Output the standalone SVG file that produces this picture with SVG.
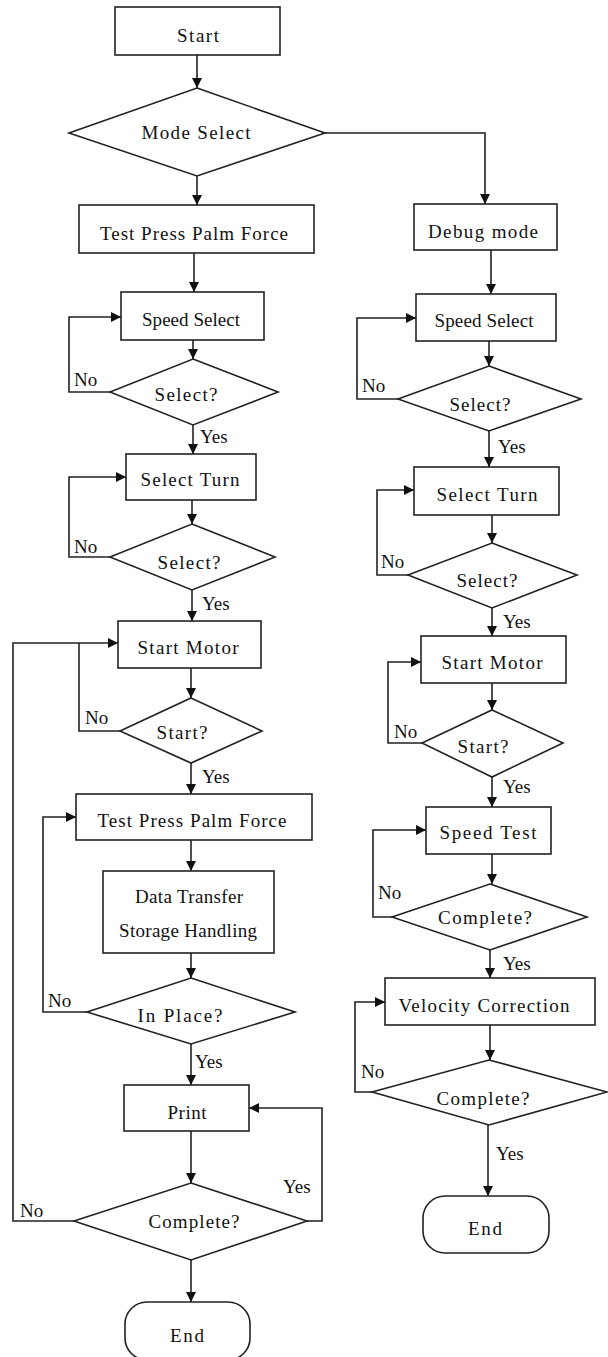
<svg xmlns="http://www.w3.org/2000/svg" width="608" height="1357" viewBox="0 0 608 1357">
<style>
.n{fill:#fff;stroke:#222;stroke-width:1.6}
.c{fill:none;stroke:#222;stroke-width:1.6}
.a{marker-end:url(#ah)}
text{font-family:"Liberation Serif","Times New Roman",serif;font-size:19px;fill:#111}
.m{text-anchor:middle}
</style>
<defs>
<marker id="ah" markerUnits="userSpaceOnUse" markerWidth="10" markerHeight="10" refX="10" refY="5" orient="auto">
<path d="M0,0 L10,5 L0,10 z" fill="#111"/>
</marker>
</defs>
<rect width="608" height="1357" fill="#fff"/>
<g id="connectors">
<path class="c a" d="M197,55 V88"/>
<path class="c a" d="M197,176 V205"/>
<path class="c a" d="M325,133 H485 V204"/>
<path class="c a" d="M194,253 V292"/>
<path class="c a" d="M193,340 V359"/>
<path class="c a" d="M110,392 H69 V317 H121"/>
<path class="c a" d="M193,425 V454"/>
<path class="c a" d="M192,500 V524"/>
<path class="c a" d="M110,557 H69 V477 H126"/>
<path class="c a" d="M192,590 V621"/>
<path class="c a" d="M191,668 V698"/>
<path class="c" d="M120,731 H79 V643"/>
<path class="c a" d="M74,1221 H13 V643 H118"/>
<path class="c a" d="M191,763 V794"/>
<path class="c a" d="M191,840 V871"/>
<path class="c a" d="M191,953 V978"/>
<path class="c a" d="M87,1012 H43 V817 H76"/>
<path class="c a" d="M191,1044 V1085"/>
<path class="c a" d="M191,1131 V1183"/>
<path class="c a" d="M307,1221 H322 V1108 H249"/>
<path class="c a" d="M191,1260 V1302"/>
<path class="c a" d="M491,250 V294"/>
<path class="c a" d="M489,341 V366"/>
<path class="c a" d="M398,399 H357 V318 H416"/>
<path class="c a" d="M489,431 V467"/>
<path class="c a" d="M492,515 V543"/>
<path class="c a" d="M408,575 H377 V490 H414"/>
<path class="c a" d="M492,608 V636"/>
<path class="c a" d="M492,683 V710"/>
<path class="c a" d="M422,743 H388 V662 H421"/>
<path class="c a" d="M492,777 V807"/>
<path class="c a" d="M492,854 V884"/>
<path class="c a" d="M392,917 H373 V830 H426"/>
<path class="c a" d="M490,950 V978"/>
<path class="c a" d="M490,1025 V1060"/>
<path class="c a" d="M372,1092 H355 V1002 H385"/>
<path class="c a" d="M488,1125 V1196"/>
<text x="200" y="443">Yes</text>
<text x="74" y="386">No</text>
<text x="74" y="553">No</text>
<text x="202" y="610">Yes</text>
<text x="85" y="724">No</text>
<text x="202" y="783">Yes</text>
<text x="48" y="1007">No</text>
<text x="195" y="1068">Yes</text>
<text x="283" y="1193">Yes</text>
<text x="20" y="1217">No</text>
<text x="362" y="392">No</text>
<text x="498" y="453">Yes</text>
<text x="381" y="568">No</text>
<text x="503" y="628">Yes</text>
<text x="394" y="738">No</text>
<text x="503" y="793">Yes</text>
<text x="378" y="899">No</text>
<text x="503" y="970">Yes</text>
<text x="361" y="1078">No</text>
<text x="496" y="1160">Yes</text>
</g>
<g id="start"><rect class="n" x="115" y="7" width="165" height="48"/><text class="m" x="198" y="42" textLength="42" lengthAdjust="spacing">Start</text></g>
<g id="mode-select"><polygon class="n" points="197,88 325,133 197,176 69,133"/><text class="m" x="196" y="139" textLength="109" lengthAdjust="spacing">Mode Select</text></g>
<g id="test-press-1"><rect class="n" x="79" y="205" width="235" height="48"/><text class="m" x="194" y="240" textLength="188" lengthAdjust="spacing">Test Press Palm Force</text></g>
<g id="speed-select-l"><rect class="n" x="121" y="292" width="143" height="48"/><text class="m" x="191" y="326" textLength="98" lengthAdjust="spacing">Speed Select</text></g>
<g id="select-l1"><polygon class="n" points="193,359 278,392 193,425 110,392"/><text class="m" x="186" y="401" textLength="63" lengthAdjust="spacing">Select?</text></g>
<g id="select-turn-l"><rect class="n" x="126" y="454" width="130" height="46"/><text class="m" x="190" y="486" textLength="99" lengthAdjust="spacing">Select Turn</text></g>
<g id="select-l2"><polygon class="n" points="192,524 275,557 192,590 110,557"/><text class="m" x="189" y="569" textLength="63" lengthAdjust="spacing">Select?</text></g>
<g id="start-motor-l"><rect class="n" x="118" y="621" width="143" height="47"/><text class="m" x="188" y="654" textLength="101" lengthAdjust="spacing">Start Motor</text></g>
<g id="start-q-l"><polygon class="n" points="191,698 262,731 191,763 120,731"/><text class="m" x="182" y="739" textLength="51" lengthAdjust="spacing">Start?</text></g>
<g id="test-press-2"><rect class="n" x="76" y="794" width="236" height="46"/><text class="m" x="192" y="827" textLength="189" lengthAdjust="spacing">Test Press Palm Force</text></g>
<g id="data-transfer"><rect class="n" x="103" y="871" width="171" height="82"/><text class="m" x="189" y="903" textLength="108" lengthAdjust="spacing">Data Transfer</text><text class="m" x="188" y="937" textLength="138" lengthAdjust="spacing">Storage Handling</text></g>
<g id="in-place"><polygon class="n" points="191,978 295,1012 191,1044 87,1012"/><text class="m" x="180" y="1022" textLength="85" lengthAdjust="spacing">In Place?</text></g>
<g id="print"><rect class="n" x="124" y="1085" width="125" height="46"/><text class="m" x="187" y="1119" textLength="39" lengthAdjust="spacing">Print</text></g>
<g id="complete-l"><polygon class="n" points="191,1183 307,1221 191,1260 74,1221"/><text class="m" x="194" y="1228" textLength="91" lengthAdjust="spacing">Complete?</text></g>
<g id="end-l"><rect class="n" x="125" y="1302" width="125" height="58" rx="22"/><text class="m" x="187" y="1342" textLength="34" lengthAdjust="spacing">End</text></g>
<g id="debug-mode"><rect class="n" x="414" y="204" width="143" height="46"/><text class="m" x="483" y="238" textLength="110" lengthAdjust="spacing">Debug mode</text></g>
<g id="speed-select-r"><rect class="n" x="416" y="294" width="140" height="47"/><text class="m" x="484" y="327" textLength="99" lengthAdjust="spacing">Speed Select</text></g>
<g id="select-r1"><polygon class="n" points="489,366 581,399 489,431 398,399"/><text class="m" x="480" y="411" textLength="61" lengthAdjust="spacing">Select?</text></g>
<g id="select-turn-r"><rect class="n" x="414" y="467" width="145" height="48"/><text class="m" x="487" y="501" textLength="101" lengthAdjust="spacing">Select Turn</text></g>
<g id="select-r2"><polygon class="n" points="492,543 577,575 492,608 408,575"/><text class="m" x="487" y="587" textLength="61" lengthAdjust="spacing">Select?</text></g>
<g id="start-motor-r"><rect class="n" x="421" y="636" width="145" height="47"/><text class="m" x="492" y="669" textLength="101" lengthAdjust="spacing">Start Motor</text></g>
<g id="start-q-r"><polygon class="n" points="492,710 563,743 492,777 422,743"/><text class="m" x="483" y="753" textLength="51" lengthAdjust="spacing">Start?</text></g>
<g id="speed-test"><rect class="n" x="426" y="807" width="125" height="47"/><text class="m" x="488" y="839" textLength="97" lengthAdjust="spacing">Speed Test</text></g>
<g id="complete-r1"><polygon class="n" points="490,884 587,917 490,950 392,917"/><text class="m" x="485" y="924" textLength="94" lengthAdjust="spacing">Complete?</text></g>
<g id="velocity-correction"><rect class="n" x="385" y="978" width="210" height="47"/><text class="m" x="484" y="1012" textLength="171" lengthAdjust="spacing">Velocity Correction</text></g>
<g id="complete-r2"><polygon class="n" points="489,1060 607,1092 489,1125 372,1092"/><text class="m" x="483" y="1105" textLength="93" lengthAdjust="spacing">Complete?</text></g>
<g id="end-r"><rect class="n" x="423" y="1196" width="126" height="57" rx="22"/><text class="m" x="485" y="1235" textLength="34" lengthAdjust="spacing">End</text></g>
</svg>
